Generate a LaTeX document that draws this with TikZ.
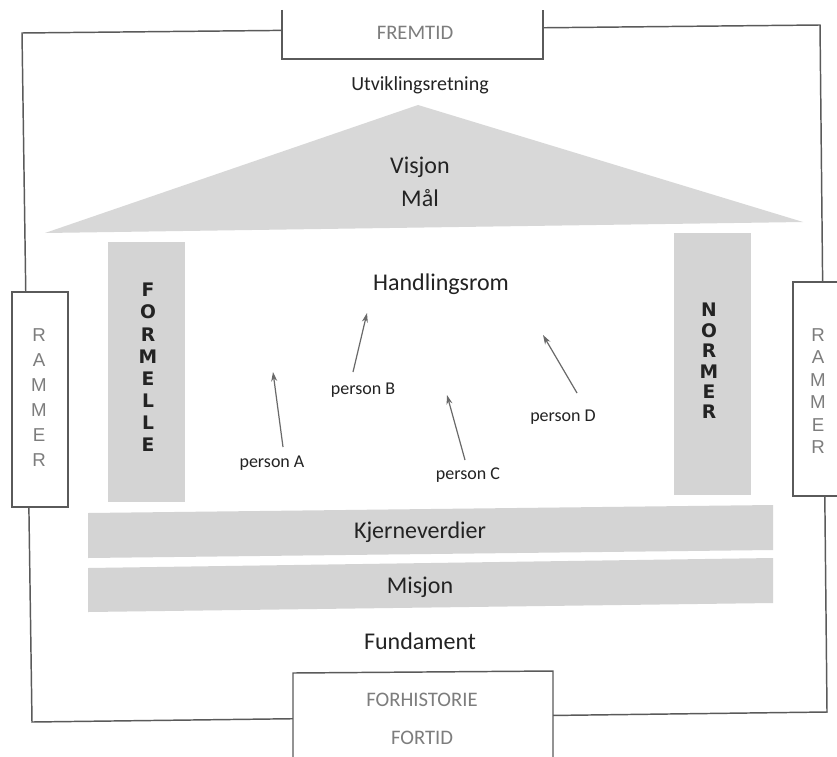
\documentclass[tikz,border=0pt]{standalone}
\usepackage{fontspec}
\setmainfont{Carlito}
\newfontfamily\letterfont{DejaVu Sans}
\newfontfamily\lightfont{Liberation Sans}
\usetikzlibrary{arrows.meta}
\definecolor{fillgray}{RGB}{212,212,212}
\definecolor{trigray}{RGB}{216,216,216}
\definecolor{linegray}{RGB}{90,90,90}
\definecolor{txtgray}{RGB}{125,125,125}
\definecolor{txtdark}{RGB}{35,35,35}
\definecolor{arrgray}{RGB}{105,105,105}
\begin{document}
\begin{tikzpicture}[x=0.75pt,y=-0.75pt,
  frameline/.style={draw=linegray,line width=1.1pt},
  boxfill/.style={fill=white},
  shade/.style={fill=fillgray},
  main/.style={text=txtdark,inner sep=0pt,font=\fontsize{18}{20}\selectfont},
  sub/.style={text=txtdark,inner sep=0pt,font=\fontsize{15}{17}\selectfont},
  persontext/.style={text=txtdark,inner sep=0pt,font=\fontsize{13.5}{15}\selectfont},
  timetext/.style={text=txtgray,inner sep=0pt,font=\fontsize{15.5}{17}\selectfont},
  pillarletter/.style={text=txtdark,inner sep=0pt,font=\letterfont\bfseries\fontsize{14}{15}\selectfont},
  rammerletter/.style={text=txtgray,inner sep=0pt,font=\lightfont\fontsize{14}{15}\selectfont},
  arr/.style={draw=arrgray,line width=0.9pt,-{Stealth[length=7pt,width=4.5pt]}}
]
\useasboundingbox[fill=white] (0,0) rectangle (837,756);

% outer frame
\draw[frameline] (22,33) -- (820,25) -- (827,712) -- (32,722) -- cycle;

% roof
\fill[trigray] (418,105) -- (803,222) -- (45,233) -- cycle;

% pillars
\fill[shade] (108,242) rectangle (185,502);
\fill[shade] (674,233) rectangle (751,495);

% bands
\fill[shade] (88,513) -- (773,505) -- (773,550) -- (88,558) -- cycle;
\fill[shade] (88,568) -- (773,558) -- (773,603) -- (88,612) -- cycle;

% boxes on the frame
\fill[boxfill] (282,10) rectangle (543,59);
\draw[frameline] (282,10) -- (282,59) -- (543,59) -- (543,10);
\fill[boxfill] (293,672) rectangle (553,756);
\draw[frameline] (293,757) -- (293,673) -- (553,671) -- (553,757);
\filldraw[frameline,boxfill] (12,292) rectangle (68,507);
\fill[boxfill] (793,282) rectangle (838,496);
\draw[frameline] (838,282) -- (793,282) -- (793,496) -- (838,496);

% texts
\node[timetext] (fremtid) at (415,33) {FREMTID};
\node[sub] (utv) at (420,85) {Utviklingsretning};
\node[main] (visjon) at (420,167) {Visjon};
\node[main] (maal) at (420,198) {Mål};
\node[main] (hrom) at (441,284) {Handlingsrom};
\node[main] (kjerne) at (420,532) {Kjerneverdier};
\node[main] (misjon) at (420,587) {Misjon};
\node[main] (fund) at (420,641) {Fundament};
\node[timetext] (forh) at (422,700) {FORHISTORIE};
\node[timetext] (fortid) at (422,738) {FORTID};

\foreach \l [count=\i] in {F,O,R,M,E,L,L,E}
  \node[pillarletter] (form\i) at (148,{290+22.1*(\i-1)}) {\l};
\foreach \l [count=\i] in {N,O,R,M,E,R}
  \node[pillarletter] (norm\i) at (709,{310+20.4*(\i-1)}) {\l};
\foreach \l [count=\i] in {R,A,M,M,E,R}
  \node[rammerletter] (rl\i) at (39,{335+25*(\i-1)}) {\l};
\foreach \l [count=\i] in {R,A,M,M,E,R}
  \node[rammerletter] (rr\i) at (818,{335+22.4*(\i-1)}) {\l};

% persons
\node[persontext] (pA) at (272,463) {person A};
\node[persontext] (pB) at (363,390) {person B};
\node[persontext] (pC) at (468,475) {person C};
\node[persontext] (pD) at (563,417) {person D};

\coordinate (tA) at (283,447); \coordinate (hA) at (273,372);
\coordinate (tB) at (353,372); \coordinate (hB) at (367,313);
\coordinate (tC) at (465,460); \coordinate (hC) at (447,395);
\coordinate (tD) at (577,393); \coordinate (hD) at (543,335);
\draw[arr] (tA) -- (hA);
\draw[arr] (tB) -- (hB);
\draw[arr] (tC) -- (hC);
\draw[arr] (tD) -- (hD);
\end{tikzpicture}
\end{document}
